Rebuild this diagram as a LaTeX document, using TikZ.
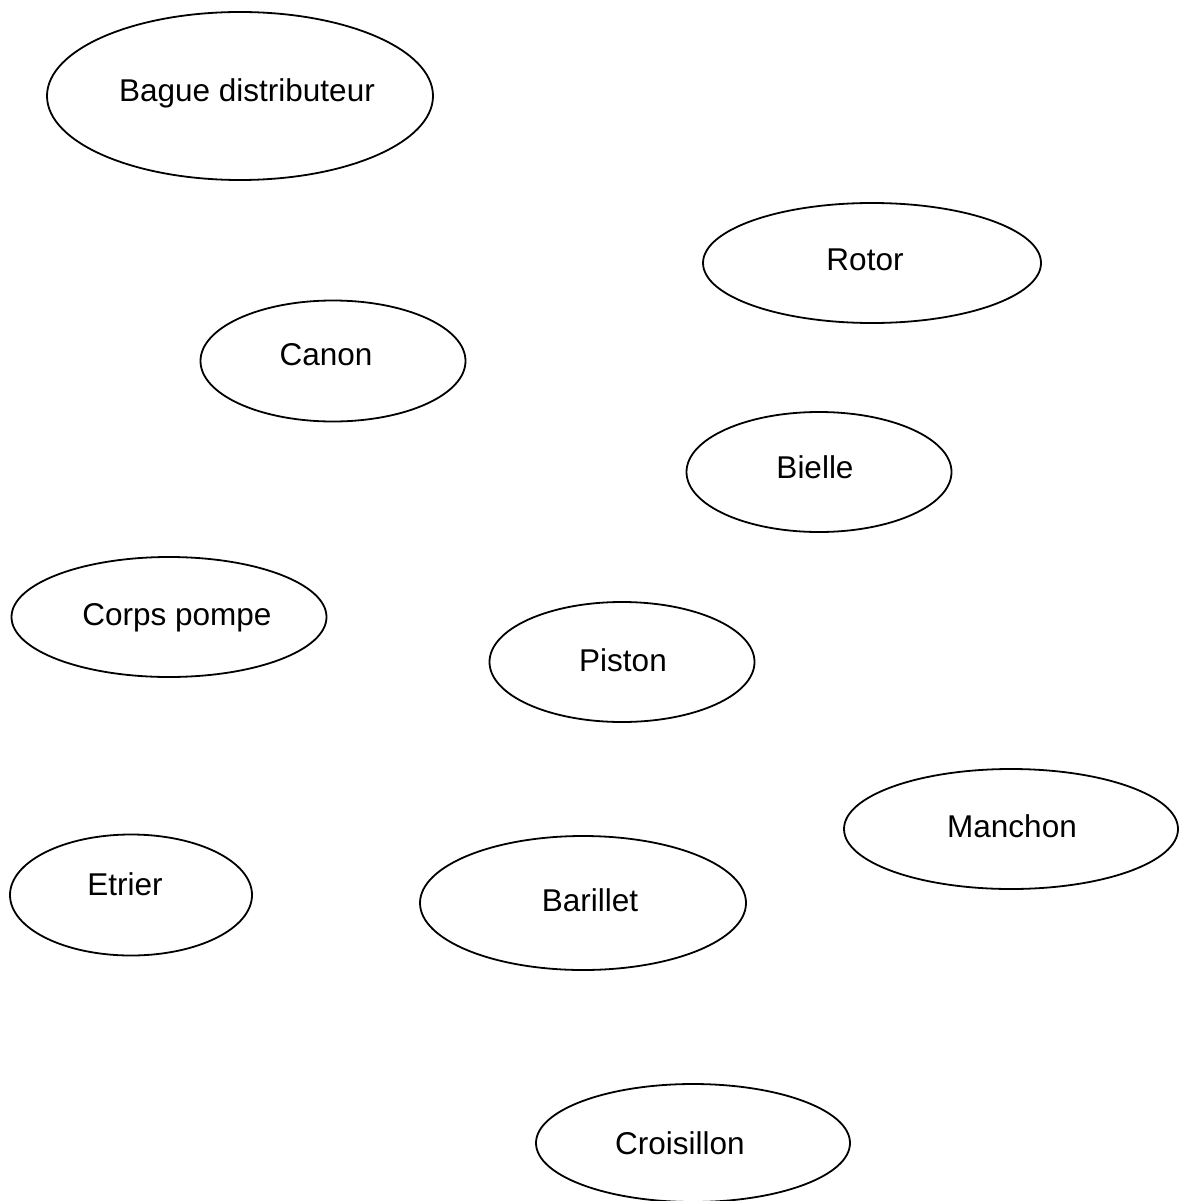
\documentclass[tikz,border=0pt]{standalone}
\usepackage{fontspec}
\setmainfont{Liberation Sans}
\usetikzlibrary{shapes.geometric}
\begin{document}
\begin{tikzpicture}[x=1pt,y=-1pt,
  part/.style={draw=black, line width=1.8pt, ellipse, inner sep=0pt},
  lbl/.style={anchor=base, inner sep=0pt, font=\fontsize{31.5}{37}\selectfont}]
\useasboundingbox (0,0) rectangle (1179,1201);
% ellipses: centre, size = 2rx x 2ry
\node[part, minimum width=386pt, minimum height=168pt] (bague) at (240,96) {};
\node[part, minimum width=338pt, minimum height=120pt] (rotor) at (872,263) {};
\node[part, minimum width=265pt, minimum height=121pt] (canon) at (333,361) {};
\node[part, minimum width=265pt, minimum height=120pt] (bielle) at (819,472) {};
\node[part, minimum width=315pt, minimum height=120pt] (corps) at (169,617) {};
\node[part, minimum width=265pt, minimum height=120pt] (piston) at (622,662) {};
\node[part, minimum width=334pt, minimum height=120pt] (manchon) at (1011,829) {};
\node[part, minimum width=242pt, minimum height=121pt] (etrier) at (131,895) {};
\node[part, minimum width=326pt, minimum height=134pt] (barillet) at (583,903) {};
\node[part, minimum width=314pt, minimum height=118pt] (croisillon) at (693,1143) {};
% labels
\node[lbl] (tbague) at (247,102) {Bague distributeur};
\node[lbl] (trotor) at (865,270) {Rotor};
\node[lbl] (tcanon) at (326,365) {Canon};
\node[lbl] (tbielle) at (815,478) {Bielle};
\node[lbl] (tcorps) at (177,625) {Corps pompe};
\node[lbl] (tpiston) at (623,671) {Piston};
\node[lbl] (tmanchon) at (1012,837) {Manchon};
\node[lbl] (tetrier) at (125,895) {Etrier};
\node[lbl] (tbarillet) at (590,911) {Barillet};
\node[lbl] (tcroisillon) at (680,1154) {Croisillon};
\end{tikzpicture}
\end{document}
